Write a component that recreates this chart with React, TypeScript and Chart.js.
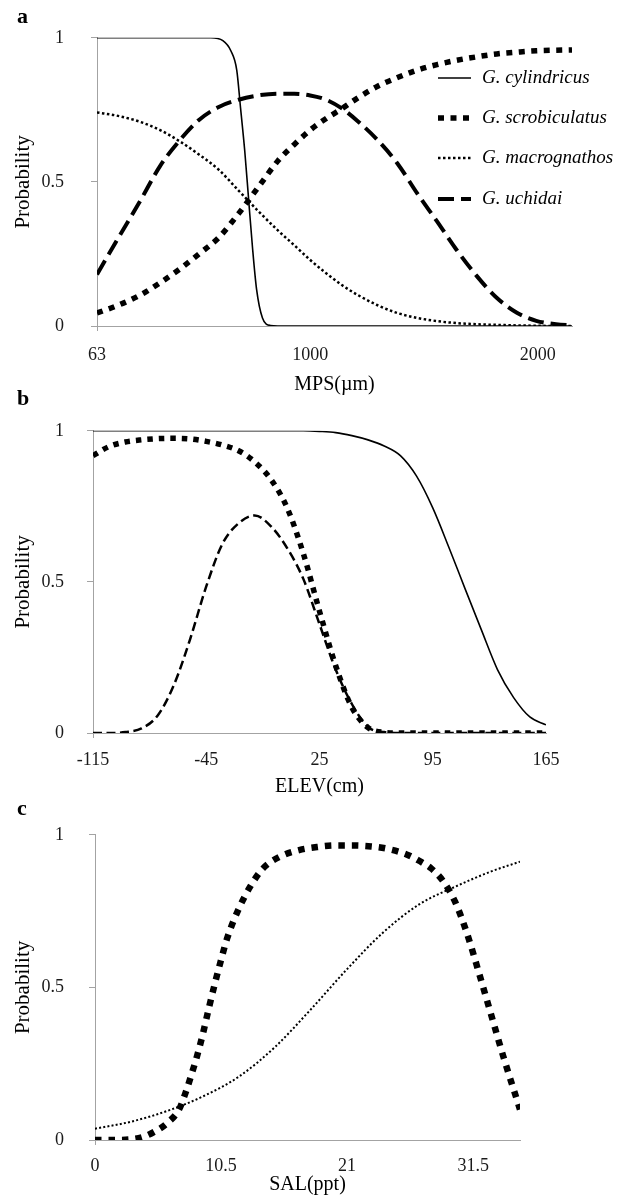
import React, { useEffect, useRef } from 'react';
import { Chart, registerables } from 'chart.js';

Chart.register(...registerables);

// ---------------- Panel a : MPS (µm) ----------------
const mpsX = [63, 150, 250, 340, 424, 511, 598, 685, 770, 860, 930, 1000, 1070, 1139, 1210, 1296, 1383, 1470, 1557, 1644, 1732, 1819, 1906, 1993, 2080, 2150];
const mpsScrob = [0.045, 0.07, 0.106, 0.15, 0.196, 0.25, 0.307, 0.39, 0.48, 0.575, 0.63, 0.68, 0.72, 0.754, 0.792, 0.832, 0.862, 0.888, 0.907, 0.922, 0.934, 0.944, 0.95, 0.955, 0.957, 0.958];
const mpsMacro = [0.741, 0.73, 0.709, 0.68, 0.642, 0.595, 0.542, 0.47, 0.4, 0.33, 0.28, 0.229, 0.183, 0.142, 0.107, 0.072, 0.045, 0.028, 0.017, 0.01, 0.006, 0.004, 0.002, 0.001, 0, 0];
const mpsUchi = [0.179, 0.297, 0.43, 0.555, 0.642, 0.715, 0.76, 0.785, 0.8, 0.806, 0.806, 0.8, 0.785, 0.755, 0.71, 0.645, 0.564, 0.46, 0.363, 0.263, 0.173, 0.098, 0.047, 0.018, 0.006, 0.002];
const mpsCylX = [63, 400, 563, 616, 651, 677, 694, 712, 729, 746, 764, 790, 825, 900, 2150];
const mpsCyl = [1, 1, 1, 0.99, 0.955, 0.888, 0.754, 0.609, 0.441, 0.274, 0.128, 0.028, 0.002, 0, 0];
const mpsTicks = [63, 1000, 2000];

// ---------------- Panel b : ELEV (cm) ----------------
const elevX = [-115, -105, -95, -85, -75, -65, -55, -45, -35, -25, -15, -5, 5, 15, 25, 35, 45, 55, 65, 75, 85, 95, 105, 115, 125, 135, 145, 155, 165];
const elevCyl = [1, 1, 1, 1, 1, 1, 1, 1, 1, 1, 1, 1, 1, 1, 0.998, 0.994, 0.984, 0.97, 0.95, 0.918, 0.85, 0.745, 0.614, 0.477, 0.342, 0.21, 0.117, 0.053, 0.027];
const elevScrob = [0.918, 0.948, 0.963, 0.97, 0.974, 0.975, 0.973, 0.965, 0.953, 0.934, 0.897, 0.839, 0.745, 0.594, 0.403, 0.223, 0.085, 0.018, 0.002, 0, 0, 0, 0, 0, 0, 0, 0, 0, 0];
const elevUchi = [0, 0, 0.003, 0.015, 0.058, 0.159, 0.31, 0.485, 0.626, 0.694, 0.72, 0.684, 0.612, 0.51, 0.36, 0.21, 0.096, 0.02, 0.003, 0, 0, 0, 0, 0, 0, 0, 0, 0, 0];
const elevTicks = [-115, -45, 25, 95, 165];

// ---------------- Panel c : SAL (ppt) ----------------
const salScrobX = [0, 1.5, 3, 4, 5, 6, 7, 7.5, 8, 8.5, 9, 9.5, 10, 10.5, 11, 12, 13, 14, 15.5, 17, 18.5, 20, 21.5, 23, 24.5, 26, 27, 28, 29, 30, 31, 32, 33, 34, 35.4];
const salScrob = [0, 0, 0.002, 0.01, 0.028, 0.055, 0.1, 0.15, 0.21, 0.275, 0.35, 0.435, 0.515, 0.59, 0.66, 0.76, 0.835, 0.89, 0.93, 0.95, 0.96, 0.965, 0.965, 0.962, 0.953, 0.935, 0.915, 0.89, 0.848, 0.78, 0.675, 0.545, 0.41, 0.275, 0.1];
const salMacroX = [0, 3, 6, 9, 12, 15, 18, 21, 24, 27, 30, 33, 35.4];
const salMacro = [0.037, 0.06, 0.095, 0.143, 0.208, 0.305, 0.429, 0.56, 0.68, 0.772, 0.83, 0.88, 0.912];
const salTicks = [0, 10.5, 21, 31.5];

const probTicks = [0, 0.5, 1];
const speciesNames = ['G. cylindricus', 'G. scrobiculatus', 'G. macrognathos', 'G. uchidai'];

// ---------------- styles ----------------
const SERIF = '"Liberation Serif", "Times New Roman", serif';
const AXIS = '#a3a3a3';
const TICK_COLOR = '#1a1a1a';

const pts = (xs: number[], ys: number[]) => xs.map((x, i) => ({ x, y: ys[i] }));

const lineDs = (label: string, data: any[], width: number, dash: number[]) => ({
  label,
  data,
  borderColor: '#000',
  backgroundColor: '#000',
  borderWidth: width,
  borderDash: dash,
  borderCapStyle: 'butt',
  pointRadius: 0,
  fill: false,
  cubicInterpolationMode: 'monotone',
});

const inlineLegend = {
  id: 'inlineLegend',
  afterDraw(chart: any, _args: any, opts: any) {
    if (!opts || !opts.display) return;
    const ctx = chart.ctx;
    ctx.save();
    chart.data.datasets.forEach((ds: any, i: number) => {
      const y = opts.rows[i];
      ctx.beginPath();
      ctx.setLineDash(ds.borderDash || []);
      ctx.lineWidth = ds.borderWidth;
      ctx.strokeStyle = ds.borderColor;
      ctx.lineCap = 'butt';
      ctx.moveTo(opts.x0, y);
      ctx.lineTo(opts.x1, y);
      ctx.stroke();
      ctx.setLineDash([]);
      ctx.font = opts.font;
      ctx.fillStyle = '#000';
      ctx.textBaseline = 'middle';
      ctx.textAlign = 'left';
      ctx.fillText(ds.label, opts.textX, y);
    });
    ctx.restore();
  },
};

type PanelSpec = {
  top: number;
  h: number;
  left: number;
  right: number;
  areaTop: number;
  areaBottom: number;
  xMin: number;
  xMax: number;
  xTicks: number[];
  xTitle: string;
  tickCenter: number;
  titlePadB: number;
  datasets: any[];
  legend?: any;
};

function buildConfig(s: PanelSpec): any {
  const xH = s.top + s.h - s.areaBottom;
  const xPad = s.tickCenter - s.areaBottom - 5 - 10.8;
  return {
    type: 'line',
    data: { datasets: s.datasets },
    plugins: s.legend ? [inlineLegend] : [],
    options: {
      responsive: false,
      animation: false,
      events: [],
      layout: { padding: { left: 0, right: 625 - s.right, top: s.areaTop - s.top, bottom: 0 } },
      plugins: {
        legend: { display: false },
        tooltip: { enabled: false },
        inlineLegend: s.legend ? { display: true, ...s.legend } : { display: false },
      },
      scales: {
        x: {
          type: 'linear',
          min: s.xMin,
          max: s.xMax,
          afterBuildTicks: (sc: any) => {
            sc.ticks = s.xTicks.map((v) => ({ value: v }));
          },
          afterFit: (sc: any) => {
            sc.height = xH;
          },
          grid: {
            drawOnChartArea: false,
            drawTicks: true,
            tickLength: 5,
            color: (c: any) => (c.index === 0 ? AXIS : 'rgba(0,0,0,0)'),
          },
          border: { display: true, color: AXIS, width: 1 },
          ticks: {
            autoSkip: false,
            maxRotation: 0,
            padding: xPad,
            color: TICK_COLOR,
            font: { family: SERIF, size: 18 },
            callback: (v: any) => String(v),
          },
          title: {
            display: true,
            text: s.xTitle,
            color: '#000',
            font: { family: SERIF, size: 20 },
            padding: { top: 0, bottom: s.titlePadB },
          },
        },
        y: {
          type: 'linear',
          min: 0,
          max: 1,
          afterBuildTicks: (sc: any) => {
            sc.ticks = probTicks.map((v) => ({ value: v }));
          },
          afterFit: (sc: any) => {
            sc.width = s.left;
          },
          grid: { drawOnChartArea: false, drawTicks: true, tickLength: 6, color: AXIS },
          border: { display: true, color: AXIS, width: 1 },
          ticks: {
            padding: s.left - 6 - 64,
            color: TICK_COLOR,
            font: { family: SERIF, size: 18 },
            callback: (v: any) => String(v),
          },
          title: {
            display: true,
            text: 'Probability',
            color: '#000',
            font: { family: SERIF, size: 21 },
            padding: { top: 10.4, bottom: 0 },
          },
        },
      },
    },
  };
}

const panels: PanelSpec[] = [
  {
    top: 0,
    h: 397,
    left: 97,
    right: 572,
    areaTop: 27,
    areaBottom: 326,
    xMin: 63,
    xMax: 2150,
    xTicks: mpsTicks,
    xTitle: 'MPS(µm)',
    tickCenter: 355,
    titlePadB: 0,
    datasets: [
      lineDs(speciesNames[0], pts(mpsCylX, mpsCyl), 1.6, []),
      lineDs(speciesNames[1], pts(mpsX, mpsScrob), 5.5, [6, 6.5]),
      lineDs(speciesNames[2], pts(mpsX, mpsMacro), 2.5, [2.5, 2.5]),
      lineDs(speciesNames[3], pts(mpsX, mpsUchi), 4, [16, 7]),
    ],
    legend: { x0: 438, x1: 471, textX: 482, rows: [78, 118, 158, 199], font: 'italic 19px ' + SERIF },
  },
  {
    top: 397,
    h: 402,
    left: 93,
    right: 546,
    areaTop: 420,
    areaBottom: 733,
    xMin: -115,
    xMax: 165,
    xTicks: elevTicks,
    xTitle: 'ELEV(cm)',
    tickCenter: 760,
    titlePadB: 0,
    datasets: [
      lineDs(speciesNames[0], pts(elevX, elevCyl), 1.6, []),
      lineDs(speciesNames[1], pts(elevX, elevScrob), 5.5, [5.5, 6]),
      lineDs(speciesNames[3], pts(elevX, elevUchi), 2.5, [9, 4.5]),
    ],
  },
  {
    top: 799,
    h: 399,
    left: 95,
    right: 520,
    areaTop: 824,
    areaBottom: 1140,
    xMin: 0,
    xMax: 35.4,
    xTicks: salTicks,
    xTitle: 'SAL(ppt)',
    tickCenter: 1166,
    titlePadB: 1,
    datasets: [
      lineDs(speciesNames[1], pts(salScrobX, salScrob), 6.5, [6.5, 7]),
      lineDs(speciesNames[2], pts(salMacroX, salMacro), 2, [2, 2.2]),
    ],
  },
];

function Panel({ spec }: { spec: PanelSpec }) {
  const ref = useRef<HTMLCanvasElement | null>(null);
  useEffect(() => {
    if (!ref.current) return;
    const chart = new Chart(ref.current, buildConfig(spec));
    return () => chart.destroy();
  }, [spec]);
  return (
    <canvas
      ref={ref}
      width={625}
      height={spec.h}
      style={{ position: 'absolute', left: 0, top: spec.top, width: 625, height: spec.h, display: 'block' }}
    />
  );
}

const panelLetters = [
  { text: 'a', top: 4.6 },
  { text: 'b', top: 386.6 },
  { text: 'c', top: 796.6 },
];

export default function App() {
  return (
    <div style={{ position: 'absolute', left: 0, top: 0, width: 625, height: 1198, background: '#fff', overflow: 'hidden' }}>
      {panels.map((p, i) => (
        <Panel key={i} spec={p} />
      ))}
      {panelLetters.map((l) => (
        <div
          key={l.text}
          style={{
            position: 'absolute',
            left: 17,
            top: l.top,
            fontFamily: SERIF,
            fontWeight: 'bold',
            fontSize: 22,
            lineHeight: 1,
            color: '#000',
          }}
        >
          {l.text}
        </div>
      ))}
    </div>
  );
}
